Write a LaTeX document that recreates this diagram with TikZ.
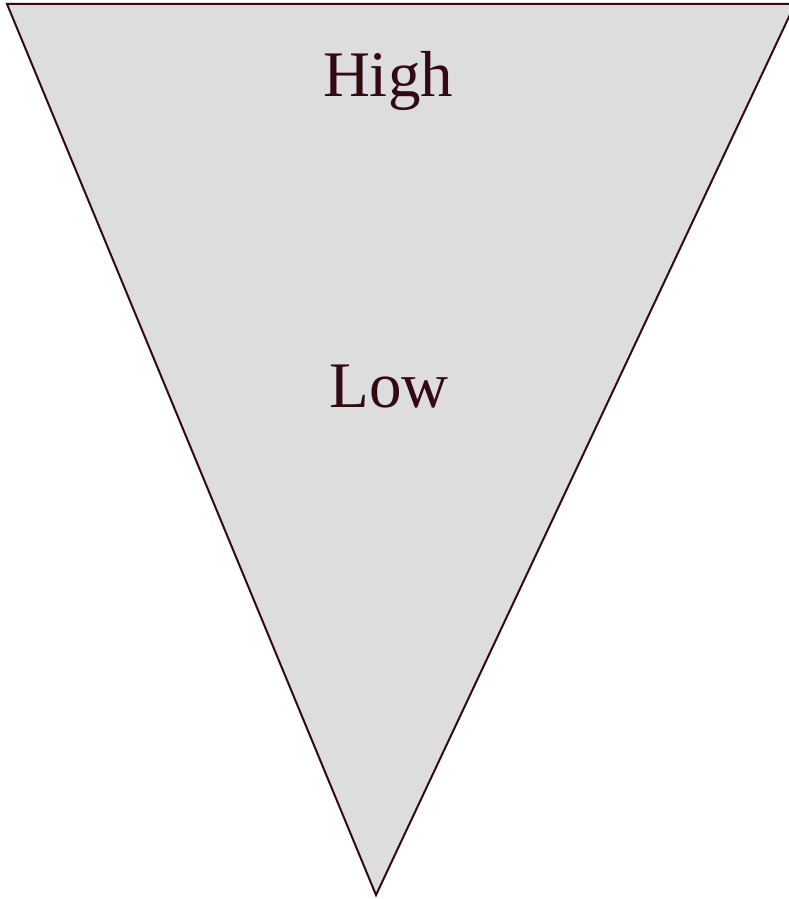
\documentclass[tikz,border=0pt]{standalone}
\usepackage{fontspec}
\setmainfont{Liberation Serif}
\definecolor{edge}{HTML}{330A14}
\definecolor{fillg}{HTML}{DDDDDD}
\tikzset{lbl/.style={anchor=base,inner sep=0pt,text=edge,font=\fontsize{65}{70}\selectfont}}
\begin{document}
\begin{tikzpicture}[x=1pt,y=-1pt]
\useasboundingbox (0,0) rectangle (789,899);
\begin{scope}
\clip (0,0) rectangle (789,899);
\draw[draw=edge,fill=fillg,line width=2pt,line join=miter] (7,4) -- (795,4) -- (376,895) -- cycle;
\end{scope}
\node[lbl] (high) at (388,96) {High};
\node[lbl] (low) at (389,407) {Low};
\end{tikzpicture}
\end{document}
